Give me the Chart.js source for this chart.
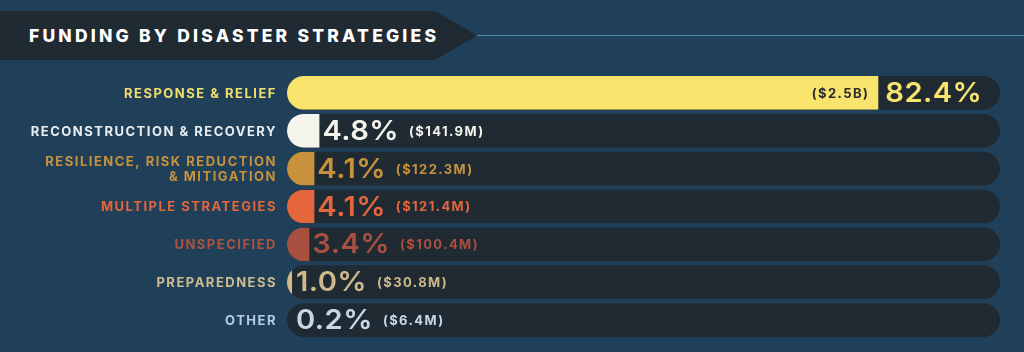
<!DOCTYPE html>
<html>
<head>
<meta charset="utf-8">
<script src="https://cdn.jsdelivr.net/npm/chart.js@4.4.1/dist/chart.umd.min.js"></script>
<style>
  html, body { margin: 0; padding: 0; background: #20405a; }
  #wrap { position: relative; width: 1024px; height: 352px; overflow: hidden; }
  #banner {
    position: absolute; left: 0; top: 11px; width: 477px; height: 49px;
    background: #1f2a33;
    clip-path: polygon(0 0, 435px 0, 477px 24.5px, 435px 49px, 0 49px);
  }
  #banner span {
    position: absolute; left: 29px; top: 0; line-height: 49px;
    font-family: Inter, sans-serif; font-weight: 800; font-size: 17.5px;
    letter-spacing: 3.2px; color: #ffffff;
  }
  #rule { position: absolute; left: 477px; top: 35px; width: 547px; height: 1px; background: #4f8db3; }
  canvas { position: absolute; left: 0; top: 0; }
</style>
</head>
<body>
<div id="wrap">
  <div id="banner"><span>FUNDING BY DISASTER STRATEGIES</span></div>
  <div id="rule"></div>
  <canvas id="chart" width="1024" height="352"></canvas>
</div>
<script>
// Data
const categories = [
  ['RESPONSE & RELIEF'],
  ['RECONSTRUCTION & RECOVERY'],
  ['RESILIENCE, RISK REDUCTION', '& MITIGATION'],
  ['MULTIPLE STRATEGIES'],
  ['UNSPECIFIED'],
  ['PREPAREDNESS'],
  ['OTHER']
];
const sharePct = [82.4, 4.8, 4.1, 4.1, 3.4, 1.0, 0.2];
const amounts = ['($2.5B)', '($141.9M)', '($122.3M)', '($121.4M)', '($100.4M)', '($30.8M)', '($6.4M)'];

const barColors = ['#f8e46c', '#f4f3ec', '#c8923c', '#e5663c', '#a8503f', '#cfb98b', '#bccfe2'];
const labelColors = ['#f2de6a', '#e9eef1', '#c8923c', '#e5663c', '#b0523f', '#cfbb90', '#b9cde0'];
const pctColors = ['#f8e46c', '#f4f3ec', '#c8923c', '#e5663c', '#a8503f', '#cfb98b', '#c6d7e8'];

const xMin = 0.3;
const xMax = 99.3;

// clip coloured bars to the rounded track shape
const trackClip = {
  id: 'trackClip',
  beforeDatasetDraw(chart, args) {
    if (args.index !== 0) return;
    const ctx = chart.ctx;
    const track = chart.getDatasetMeta(1).data;
    ctx.save();
    ctx.beginPath();
    track.forEach(el => {
      const h = el.height;
      ctx.roundRect(el.base, el.y - h / 2, el.x - el.base, h, h / 2);
    });
    ctx.clip();
  },
  afterDatasetDraw(chart, args) {
    if (args.index !== 0) return;
    chart.ctx.restore();
  }
};

// big percentage, drawn a bit expanded like the original typeface
function drawPct(ctx, txt, x, y, color) {
  const sx = 1.08;
  ctx.save();
  ctx.font = '600 27px Inter, sans-serif';
  ctx.letterSpacing = '0.4px';
  ctx.fillStyle = color;
  ctx.textAlign = 'left';
  ctx.translate(x, y);
  ctx.scale(sx, 1);
  ctx.fillText(txt, 0, 0);
  const w = ctx.measureText(txt).width * sx;
  ctx.restore();
  return w;
}

// category names, percentages and amounts
const rowText = {
  id: 'rowText',
  afterDatasetsDraw(chart) {
    const ctx = chart.ctx;
    const bars = chart.getDatasetMeta(0).data;
    const left = chart.chartArea.left;
    ctx.save();
    ctx.textBaseline = 'middle';
    bars.forEach((bar, i) => {
      const y = bar.y;
      // category label
      ctx.font = '700 13px Inter, sans-serif';
      ctx.letterSpacing = '1.5px';
      ctx.fillStyle = labelColors[i];
      ctx.textAlign = 'right';
      const lines = categories[i];
      lines.forEach((ln, j) => {
        const ly = y + (j - (lines.length - 1) / 2) * 15;
        ctx.fillText(ln, 277, ly + 1);
      });
      const pctTxt = sharePct[i].toFixed(1) + '%';
      if (bar.x - left > 150) {
        // amount inside the bar, percentage after it
        ctx.font = '700 13px Inter, sans-serif';
        ctx.letterSpacing = '1.4px';
        ctx.fillStyle = '#2b2b2b';
        ctx.textAlign = 'right';
        ctx.fillText(amounts[i], bar.x - 9, y + 1);
        drawPct(ctx, pctTxt, bar.x + 7, y + 1, pctColors[i]);
      } else {
        const px = Math.max(bar.x, left + 6) + 3;
        const w = drawPct(ctx, pctTxt, px, y + 1, pctColors[i]);
        ctx.font = '700 13px Inter, sans-serif';
        ctx.letterSpacing = '1.4px';
        ctx.fillStyle = pctColors[i];
        ctx.textAlign = 'left';
        ctx.fillText(amounts[i], px + w + 10, y + 1);
      }
    });
    ctx.restore();
  }
};

new Chart(document.getElementById('chart'), {
  type: 'bar',
  data: {
    labels: categories.map(c => c.join(' ')),
    datasets: [
      {
        data: sharePct,
        backgroundColor: barColors,
        base: xMin,
        grouped: false,
        order: 1,
        barPercentage: 0.89,
        categoryPercentage: 1
      },
      {
        data: sharePct.map(() => xMax),
        backgroundColor: '#1f2a33',
        base: xMin,
        grouped: false,
        order: 2,
        borderRadius: 17,
        borderSkipped: false,
        barPercentage: 0.89,
        categoryPercentage: 1
      }
    ]
  },
  options: {
    indexAxis: 'y',
    responsive: false,
    animation: false,
    layout: { padding: { left: 287, right: 24, top: 74, bottom: 13 } },
    scales: {
      x: { display: false, min: xMin, max: xMax },
      y: { display: false }
    },
    plugins: {
      legend: { display: false },
      tooltip: { enabled: false }
    }
  },
  plugins: [trackClip, rowText]
});
</script>
</body>
</html>
